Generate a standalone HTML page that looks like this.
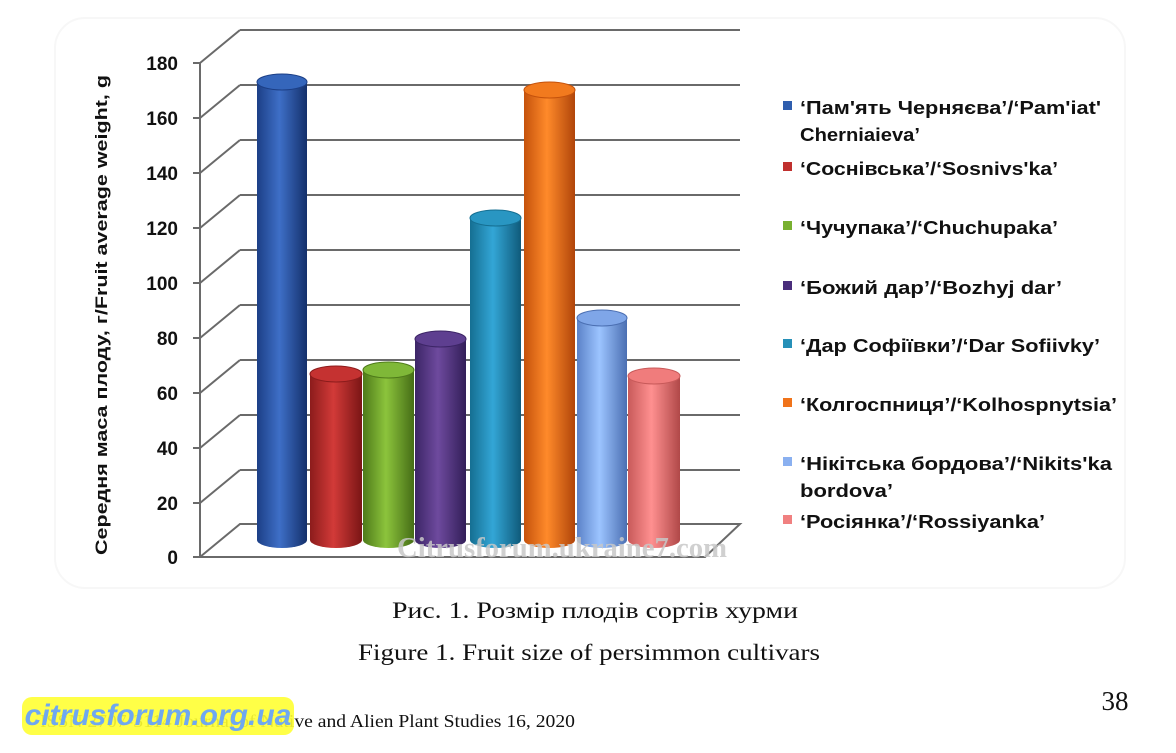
<!DOCTYPE html>
<html><head><meta charset="utf-8"><style>
body{margin:0;width:1176px;height:748px;background:#fff;overflow:hidden;font-family:"Liberation Sans",sans-serif}
</style></head><body>
<svg width="1176" height="748" xmlns="http://www.w3.org/2000/svg">
<defs>
<linearGradient id="gb" x1="0" x2="1"><stop offset="0" stop-color="#1c3f86"/><stop offset=".45" stop-color="#3e6fc7"/><stop offset="1" stop-color="#14306b"/></linearGradient>
<linearGradient id="gr" x1="0" x2="1"><stop offset="0" stop-color="#8c1c1c"/><stop offset=".45" stop-color="#d23a38"/><stop offset="1" stop-color="#7a1515"/></linearGradient>
<linearGradient id="gg" x1="0" x2="1"><stop offset="0" stop-color="#4e7a1a"/><stop offset=".45" stop-color="#8cc43c"/><stop offset="1" stop-color="#456d16"/></linearGradient>
<linearGradient id="gp" x1="0" x2="1"><stop offset="0" stop-color="#3c2566"/><stop offset=".45" stop-color="#6e4a9e"/><stop offset="1" stop-color="#321e58"/></linearGradient>
<linearGradient id="gt" x1="0" x2="1"><stop offset="0" stop-color="#156f92"/><stop offset=".45" stop-color="#33a6d6"/><stop offset="1" stop-color="#0f5a7a"/></linearGradient>
<linearGradient id="go" x1="0" x2="1"><stop offset="0" stop-color="#c5520c"/><stop offset=".45" stop-color="#ff8a2a"/><stop offset="1" stop-color="#b0450a"/></linearGradient>
<linearGradient id="gl" x1="0" x2="1"><stop offset="0" stop-color="#5b82c8"/><stop offset=".45" stop-color="#9cc4ff"/><stop offset="1" stop-color="#4b6fb2"/></linearGradient>
<linearGradient id="gk" x1="0" x2="1"><stop offset="0" stop-color="#c85a5a"/><stop offset=".45" stop-color="#ff9090"/><stop offset="1" stop-color="#b04848"/></linearGradient>
</defs>
<rect x="55" y="18" width="1070" height="570" rx="30" fill="none" stroke="#f7f7f7" stroke-width="2"/>
<g stroke="#6a6a6a" stroke-width="2" fill="none">
<path d="M240,30H740M240,85H740M240,140H740M240,195H740M240,250H740M240,305H740M240,360H740M240,415H740M240,470H740"/>
<path d="M200,63L240,30M200,118L240,85M200,173L240,140M200,228L240,195M200,283L240,250M200,338L240,305M200,393L240,360M200,448L240,415M200,503L240,470M200,557L240,524L740,524L705,557Z" />
<path d="M200,63V557"/>
<path d="M193,63H200M193,118H200M193,173H200M193,228H200M193,283H200M193,338H200M193,393H200M193,448H200M193,503H200M193,557H200"/>
</g>
<g font-size="19" font-weight="bold" fill="#111" text-anchor="end">
<text x="178" y="70">180</text><text x="178" y="125">160</text><text x="178" y="180">140</text><text x="178" y="235">120</text><text x="178" y="290">100</text><text x="178" y="345">80</text><text x="178" y="400">60</text><text x="178" y="455">40</text><text x="178" y="510">20</text><text x="178" y="564">0</text>
</g>
<text transform="translate(107,315) rotate(-90)" text-anchor="middle" font-size="17" font-weight="bold" fill="#111" textLength="480" lengthAdjust="spacingAndGlyphs">Середня маса плоду, г/Fruit average weight, g</text>
<g>
<path d="M257,82V540A25,8 0 0 0 307,540V82Z" fill="url(#gb)"/><ellipse cx="282" cy="82" rx="25" ry="8" fill="#3566bb" stroke="#1c3f86"/>
<path d="M310,374V540A26,8 0 0 0 362,540V374Z" fill="url(#gr)"/><ellipse cx="336" cy="374" rx="26" ry="8" fill="#c53231" stroke="#8c1c1c"/>
<path d="M363,370V540A25.5,8 0 0 0 414,540V370Z" fill="url(#gg)"/><ellipse cx="388.5" cy="370" rx="25.5" ry="8" fill="#7fb838" stroke="#4e7a1a"/>
<path d="M415,339V540A25.5,8 0 0 0 466,540V339Z" fill="url(#gp)"/><ellipse cx="440.5" cy="339" rx="25.5" ry="8" fill="#5e3f90" stroke="#3c2566"/>
<path d="M470,218V540A25.5,8 0 0 0 521,540V218Z" fill="url(#gt)"/><ellipse cx="495.5" cy="218" rx="25.5" ry="8" fill="#2996c2" stroke="#156f92"/>
<path d="M524,90V540A25.5,8 0 0 0 575,540V90Z" fill="url(#go)"/><ellipse cx="549.5" cy="90" rx="25.5" ry="8" fill="#f27a1e" stroke="#c5520c"/>
<path d="M577,318V540A25,8 0 0 0 627,540V318Z" fill="url(#gl)"/><ellipse cx="602" cy="318" rx="25" ry="8" fill="#7fa6e8" stroke="#4b6fb2"/>
<path d="M628,376V540A26,8 0 0 0 680,540V376Z" fill="url(#gk)"/><ellipse cx="654" cy="376" rx="26" ry="8" fill="#f07c7c" stroke="#c85a5a"/>
</g>
<text x="562" y="557" text-anchor="middle" font-family="Liberation Serif,serif" font-weight="bold" font-size="28" fill="#c8c8c8" opacity=".85" textLength="330" lengthAdjust="spacingAndGlyphs">Citrusforum.ukraine7.com</text>
<g font-size="18" font-weight="bold" fill="#111">
<rect x="783" y="101" width="9" height="9" fill="#2f5eae"/><text x="800" y="114" textLength="301" lengthAdjust="spacingAndGlyphs">‘Пам'ять Черняєва’/‘Pam'iat'</text><text x="800" y="141" textLength="120" lengthAdjust="spacingAndGlyphs">Cherniaieva’</text>
<rect x="783" y="162" width="9" height="9" fill="#c0302e"/><text x="800" y="175" textLength="258" lengthAdjust="spacingAndGlyphs">‘Соснівська’/‘Sosnivs'ka’</text>
<rect x="783" y="221" width="9" height="9" fill="#78b030"/><text x="800" y="234" textLength="258" lengthAdjust="spacingAndGlyphs">‘Чучупака’/‘Chuchupaka’</text>
<rect x="783" y="281" width="9" height="9" fill="#4a2e7c"/><text x="800" y="294" textLength="262" lengthAdjust="spacingAndGlyphs">‘Божий дар’/‘Bozhyj dar’</text>
<rect x="783" y="339" width="9" height="9" fill="#2690b8"/><text x="800" y="352" textLength="300" lengthAdjust="spacingAndGlyphs">‘Дар Софіївки’/‘Dar Sofiivky’</text>
<rect x="783" y="398" width="9" height="9" fill="#f0731a"/><text x="800" y="411" textLength="317" lengthAdjust="spacingAndGlyphs">‘Колгоспниця’/‘Kolhospnytsia’</text>
<rect x="783" y="457" width="9" height="9" fill="#8ab0f0"/><text x="800" y="470" textLength="312" lengthAdjust="spacingAndGlyphs">‘Нікітська бордова’/‘Nikits'ka</text><text x="800" y="497" textLength="93" lengthAdjust="spacingAndGlyphs">bordova’</text>
<rect x="783" y="515" width="9" height="9" fill="#f08080"/><text x="800" y="528" textLength="245" lengthAdjust="spacingAndGlyphs">‘Росіянка’/‘Rossiyanka’</text>
</g>
<g font-family="Liberation Serif,serif" fill="#111" text-anchor="middle" font-size="23">
<text x="595" y="618" textLength="406" lengthAdjust="spacingAndGlyphs">Рис. 1. Розмір плодів сортів хурми</text>
<text x="589" y="660" textLength="462" lengthAdjust="spacingAndGlyphs">Figure 1. Fruit size of persimmon cultivars</text>
</g>
<text x="1115" y="710" font-family="Liberation Serif,serif" font-size="27" text-anchor="middle" fill="#111">38</text>
<text x="40" y="727" font-family="Liberation Serif,serif" font-size="18" fill="#111" textLength="535" lengthAdjust="spacingAndGlyphs">ISSN 2707-3114 Journal of Native and Alien Plant Studies 16, 2020</text>
<rect x="22" y="697" width="272" height="38" rx="10" fill="#ffff33" opacity=".9"/>
<text x="158" y="725" text-anchor="middle" font-size="30" font-weight="bold" fill="#6fa8f0" font-style="italic">citrusforum.org.ua</text>
</svg>
</body></html>
